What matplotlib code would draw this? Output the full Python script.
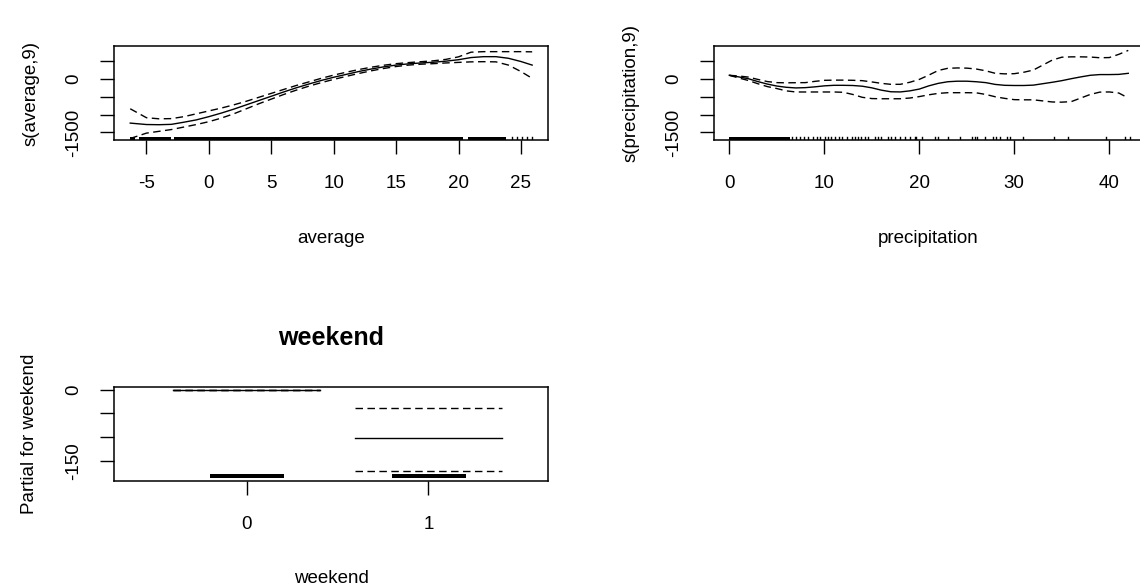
import numpy as np
import matplotlib
matplotlib.use("Agg")
import matplotlib.pyplot as plt

plt.rcParams['font.family'] = ['Liberation Sans', 'DejaVu Sans']
plt.rcParams['axes.unicode_minus'] = False

# ---- smooth term: average temperature ----
avg_x = [-6.3, -5, -4, -3, -2, -1, 0, 1, 2, 3, 4, 5, 6, 7, 8, 9, 10, 11, 12,
         13, 14, 15, 16, 17, 18, 19, 20, 21, 22, 23, 24, 25, 25.9]
avg_fit = [-1240, -1280, -1285, -1275, -1215, -1150, -1060, -960, -850, -730,
           -610, -490, -370, -255, -150, -50, 40, 120, 200, 270, 330, 380,
           415, 440, 460, 490, 530, 590, 615, 615, 570, 480, 380]
avg_upper = [-840, -1090, -1120, -1115, -1060, -980, -900, -820, -730, -630,
             -520, -410, -300, -190, -90, 10, 100, 180, 255, 320, 375, 420,
             450, 475, 500, 540, 610, 740, 755, 755, 755, 755, 750]
avg_lower = [-1670, -1520, -1470, -1420, -1350, -1280, -1200, -1100, -980,
             -840, -700, -570, -440, -320, -210, -110, -20, 65, 145, 220, 285,
             340, 380, 405, 420, 440, 455, 470, 475, 470, 380, 200, 10]
avg_rug_spans = [(-6.35, -5.9), (-5.6, -3.0), (-2.8, 20.4), (20.8, 23.8)]
avg_rug_ticks = [24.3, 24.7, 25.1, 25.5, 25.9]

# ---- smooth term: precipitation ----
prc_x = list(range(0, 43))
prc_fit = [95, 50, 0, -80, -150, -205, -240, -258, -250, -228, -200, -185,
           -185, -190, -210, -255, -320, -365, -370, -340, -290, -200, -130,
           -85, -70, -70, -85, -110, -160, -185, -190, -190, -180, -140, -100,
           -55, 0, 50, 95, 115, 115, 120, 150]
prc_upper = [95, 75, 45, -20, -80, -110, -115, -112, -110, -75, -46, -40,
             -40, -45, -55, -90, -130, -157, -157, -100, -20, 100, 230, 290,
             300, 295, 270, 220, 150, 135, 140, 180, 240, 380, 520, 600, 610,
             610, 605, 585, 590, 680, 790]
prc_lower = [95, 20, -50, -140, -220, -275, -340, -371, -371, -371, -371,
             -371, -380, -440, -520, -555, -560, -560, -560, -540, -500, -450,
             -410, -391, -391, -391, -395, -440, -505, -550, -585, -590, -590,
             -620, -650, -655, -640, -540, -440, -375, -370, -400, -539]
prc_rug_spans = [(0.0, 6.4)]
prc_rug_ticks = [6.6, 7.0, 7.4, 7.9, 8.3, 8.8, 9.2, 9.6, 10.1, 10.4, 10.7,
                 11.1, 11.5, 11.9, 12.4, 12.9, 13.2, 13.5, 13.9, 14.3, 14.6,
                 15.3, 15.7, 16.0, 16.7, 17.0, 17.4, 18.0, 18.5, 19.0, 19.5,
                 19.7, 20.3, 21.65, 22.0, 23.05, 24.3, 25.5, 25.9, 26.1, 26.9,
                 27.8, 28.1, 28.5, 29.2, 29.5, 30.9, 34.2, 35.7, 39.7, 41.65,
                 42.2]

# ---- parametric term: weekend ----
wk_levels = [0, 1]
wk_fit = [0, -102.5]
wk_upper = [0, -39.4]
wk_lower = [0, -171.0]

W, H = 1140, 587
fig = plt.figure(figsize=(W / 100, H / 100), dpi=100)


def px_box(x0, x1, y0, y1):
    return [x0 / W, 1 - y1 / H, (x1 - x0) / W, (y1 - y0) / H]


def style(ax, xticks, yticks, ylabels):
    for s in ax.spines.values():
        s.set_linewidth(1.1)
    ax.set_xticks(xticks)
    ax.set_yticks(yticks)
    ax.set_yticklabels(ylabels)
    ax.tick_params(direction='out', length=10, width=1.0, labelsize=13.5)
    ax.tick_params(axis='x', pad=15)
    ax.tick_params(axis='y', pad=13, labelrotation=90)
    for lab in ax.get_yticklabels():
        lab.set_va('center')


def label_x(text, xc, ybase):
    fig.text(xc / W, 1 - ybase / H, text, ha='center', va='baseline',
             fontsize=13.5)


def label_y(text, xbase, yc):
    fig.text(xbase / W, 1 - yc / H, text, ha='center', va='baseline',
             rotation=90, rotation_mode='anchor', fontsize=13.5)


dash = (0, (5.4, 3.2))


def smooth_panel(ax, x, fit, up, lo, spans, ticks):
    ax.plot(x, fit, color='black', lw=1.0)
    ax.plot(x, up, color='black', lw=1.0, linestyle=dash)
    ax.plot(x, lo, color='black', lw=1.0, linestyle=dash)
    for a, b in spans:
        ax.axvspan(a, b, ymin=0, ymax=0.03, color='black', lw=0)
    for t in ticks:
        ax.axvline(t, ymin=0, ymax=0.03, color='black', lw=1.0)


# panel 1
ax1 = fig.add_axes(px_box(114, 548, 46, 140))
smooth_panel(ax1, avg_x, avg_fit, avg_upper, avg_lower, avg_rug_spans, avg_rug_ticks)
ax1.set_xlim(-7.6, 27.17)
ax1.set_ylim(-1712, 913)
style(ax1, [-5, 0, 5, 10, 15, 20, 25], [-1500, -1000, -500, 0, 500],
      ['-1500', '', '', '0', ''])
label_x('average', 331, 243)
label_y('s(average,9)', 36, 93)

# panel 2
ax2 = fig.add_axes(px_box(714, 1143, 46, 140))
smooth_panel(ax2, prc_x, prc_fit, prc_upper, prc_lower, prc_rug_spans, prc_rug_ticks)
ax2.set_xlim(-1.61, 43.55)
ax2.set_ylim(-1712, 913)
style(ax2, [0, 10, 20, 30, 40], [-1500, -1000, -500, 0, 500],
      ['-1500', '', '', '0', ''])
label_x('precipitation', 928, 243)
label_y('s(precipitation,9)', 636, 93)

# panel 3
ax3 = fig.add_axes(px_box(114, 548, 387, 481))
for lev, f, u, l in zip(wk_levels, wk_fit, wk_upper, wk_lower):
    ax3.plot([lev - 0.405, lev + 0.405], [u, u], color='black', lw=1.0, linestyle=dash)
    ax3.plot([lev - 0.405, lev + 0.405], [l, l], color='black', lw=1.0, linestyle=dash)
    ax3.plot([lev - 0.405, lev + 0.405], [f, f], color='black', lw=1.0)
    ax3.axvspan(lev - 0.2, lev + 0.205, ymin=0.029, ymax=0.078, color='black', lw=0)
ax3.set_xlim(-0.729, 1.657)
ax3.set_ylim(-192, 5.7)
style(ax3, wk_levels, [-150, -100, -50, 0], ['-150', '', '', '0'])
ax3.set_xticklabels([str(v) for v in wk_levels])
fig.text(331 / W, 1 - 345 / H, 'weekend', ha='center', va='baseline',
         fontsize=18, fontweight='bold')
label_x('weekend', 331, 583)
label_y('Partial for weekend', 34, 434)

fig.savefig('out.png', dpi=100, facecolor='white')
